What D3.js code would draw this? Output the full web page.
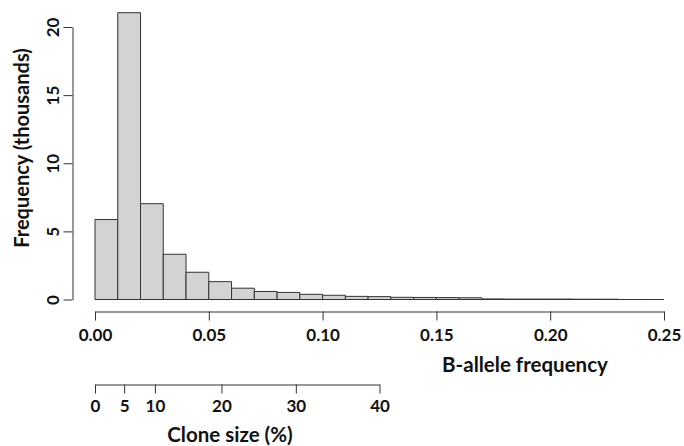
<!DOCTYPE html>
<html>
<head>
<meta charset="utf-8">
<script src="https://cdn.jsdelivr.net/npm/d3@7"></script>
<style>
  body { margin: 0; background: #fff; }
  text { font-family: Lato, "Open Sans", sans-serif; font-weight: bold; fill: #111; }
</style>
</head>
<body>
<div id="chart"></div>
<script>
// 히스토그램 구간 (B-allele frequency)
var binStart = [0.00, 0.01, 0.02, 0.03, 0.04, 0.05, 0.06, 0.07, 0.08, 0.09,
                0.10, 0.11, 0.12, 0.13, 0.14, 0.15, 0.16, 0.17, 0.18, 0.19,
                0.20, 0.21, 0.22, 0.23, 0.24];
var binWidth = 0.01;
// 빈도 (천 단위)
var counts = [5.87, 21.05, 7.03, 3.32, 2.0, 1.31, 0.83, 0.59, 0.52, 0.38,
              0.31, 0.23, 0.21, 0.16, 0.15, 0.14, 0.13, 0.04, 0.03, 0.03,
              0.03, 0.02, 0.02, 0, 0];

var xTicks = [0, 0.05, 0.10, 0.15, 0.20, 0.25];
var yTicks = [0, 5, 10, 15, 20];
var cloneTicks = [0, 5, 10, 20, 30, 40];

var W = 684, H = 446;
var svg = d3.select("#chart").append("svg")
    .attr("width", W)
    .attr("height", H);

// 스케일
var x = d3.scaleLinear().domain([0, 0.25]).range([95, 664]);
var y = d3.scaleLinear().domain([0, 20]).range([299.5, 27]);

// 클론 크기(%) -> B-allele frequency 편차
function cloneToBaf(c) { return 1 / (2 - c / 100) - 0.5; }
var cloneScale = function(c) { return x(cloneToBaf(c)); };
cloneScale.copy = function() { return cloneScale; };
cloneScale.range = function() { return [cloneScale(0), cloneScale(40)]; };
cloneScale.domain = function() { return [0, 40]; };

// 막대 그리기 (높이 0 인 구간도 선으로 보이도록 path 사용)
svg.append("g").selectAll("path")
    .data(binStart)
    .enter()
    .append("path")
    .attr("d", function(d, i) {
      var x0 = x(d), x1 = x(d + binWidth), y0 = y(0), y1 = y(counts[i]);
      return "M" + x0 + "," + y0 + "H" + x1 + "V" + y1 + "H" + x0 + "Z";
    })
    .style("fill", "#d3d3d3")
    .style("stroke", "#333")
    .style("stroke-width", 1);

// x축
var gx = svg.append("g")
    .attr("transform", "translate(0,311.5)")
    .call(d3.axisBottom(x).tickValues(xTicks).tickFormat(d3.format(".2f")).tickSize(9).tickSizeOuter(0));

// y축
var gy = svg.append("g")
    .attr("transform", "translate(72.5,0)")
    .call(d3.axisLeft(y).tickValues(yTicks).tickSize(9).tickSizeOuter(0));

// 클론 크기 축
var gc = svg.append("g")
    .attr("transform", "translate(0,384.5)")
    .call(d3.axisBottom(cloneScale).tickValues(cloneTicks).tickFormat(function(d) { return d; }).tickSize(9).tickSizeOuter(0));

[gx, gy, gc].forEach(function(g) {
  g.select(".domain").style("stroke", "#333");
  g.selectAll(".tick line").style("stroke", "#333");
  g.selectAll("text").style("font-size", "17px").style("fill", "#111")
   .style("font-family", "Lato, 'Open Sans', sans-serif").style("font-weight", "bold");
});
gx.selectAll("text").attr("y", 17);
gc.selectAll("text").attr("y", 15);

// y축 눈금 글자 세로로
gy.selectAll(".tick text")
    .attr("x", 0).attr("dy", 0)
    .attr("transform", "translate(-20,0) rotate(-90)")
    .style("text-anchor", "middle")
    .attr("dominant-baseline", "central");

// 축 제목
svg.append("text")
    .attr("x", 525).attr("y", 372)
    .attr("text-anchor", "middle")
    .style("font-size", "20.5px")
    .text("B-allele frequency");

svg.append("text")
    .attr("x", 230).attr("y", 442)
    .attr("text-anchor", "middle")
    .style("font-size", "20.5px")
    .text("Clone size (%)");

svg.append("text")
    .attr("transform", "translate(29,148) rotate(-90)")
    .attr("text-anchor", "middle")
    .style("font-size", "20px")
    .text("Frequency (thousands)");
</script>
</body>
</html>
